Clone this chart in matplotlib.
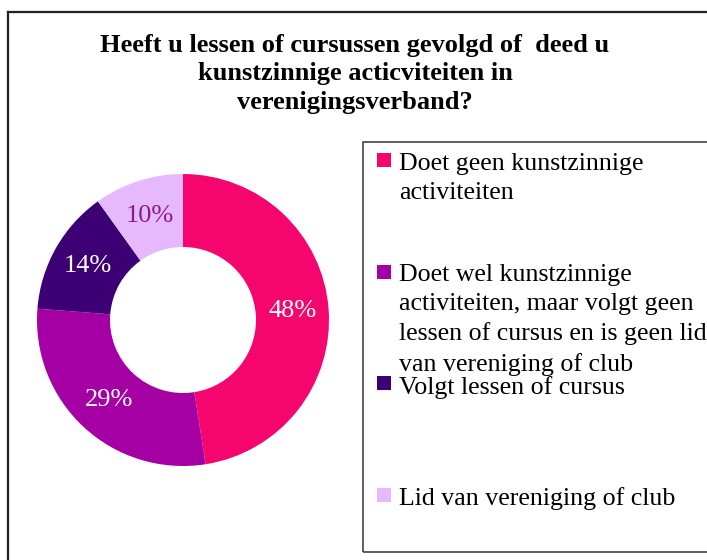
import matplotlib.pyplot as plt
from matplotlib.lines import Line2D
from matplotlib.patches import Rectangle

labels = [
    "Doet geen kunstzinnige\nactiviteiten",
    "Doet wel kunstzinnige\nactiviteiten, maar volgt geen\nlessen of cursus en is geen lid\nvan vereniging of club",
    "Volgt lessen of cursus",
    "Lid van vereniging of club",
]
values = [48, 29, 14, 10]
colors = ["#F5066F", "#A400A4", "#3C0074", "#E6B9FF"]
label_colors = ["white", "white", "white", "#8A1A8A"]

title = "Heeft u lessen of cursussen gevolgd of  deed u\nkunstzinnige acticviteiten in\nverenigingsverband?"

W, H = 707, 560
plt.rcParams["font.family"] = ["Liberation Serif", "DejaVu Serif"]

fig = plt.figure(figsize=(W / 100, H / 100), dpi=100)

# outer frame (only left and top visible)
fig.add_artist(Line2D([7.5 / W, 7.5 / W], [0, 1 - 12 / H], color="#222222", lw=1.6))
fig.add_artist(Line2D([7.5 / W, 1], [1 - 12 / H, 1 - 12 / H], color="#222222", lw=1.6))

fig.text(355 / W, 1 - 34 / H, title, ha="center", va="top", fontsize=19,
         fontweight="bold", linespacing=1.3)

# donut
cx, cy, r = 183, 320, 146
ax = fig.add_axes([(cx - r) / W, 1 - (cy + r) / H, 2 * r / W, 2 * r / H])
wedges, texts, autotexts = ax.pie(
    values, colors=colors, startangle=90, counterclock=False,
    labels=None, autopct=lambda p: "", pctdistance=0.75,
    wedgeprops=dict(width=0.5, edgecolor="none"), radius=1,
)
for t, v, c in zip(autotexts, values, label_colors):
    t.set_text("%d%%" % v)
    t.set_color(c)
    t.set_fontsize(19)
ax.set_xlim(-1, 1)
ax.set_ylim(-1, 1)
ax.set_aspect("equal")
ax.axis("off")

# legend box
fig.add_artist(Rectangle((363 / W, 1 - 552 / H), (W - 363 + 5) / W, 410 / H,
                         transform=fig.transFigure, fill=False,
                         edgecolor="#333333", lw=1.1))
for i, (lab, col) in enumerate(zip(labels, colors)):
    top = 153 + i * 111.5
    fig.add_artist(Rectangle((377 / W, 1 - (top + 14) / H), 14 / W, 14 / H,
                             transform=fig.transFigure, facecolor=col,
                             edgecolor="none"))
    fig.text(399 / W, 1 - top / H, lab, ha="left", va="top",
             fontsize=18.6, linespacing=1.4)

fig.savefig("out.png", dpi=100)
